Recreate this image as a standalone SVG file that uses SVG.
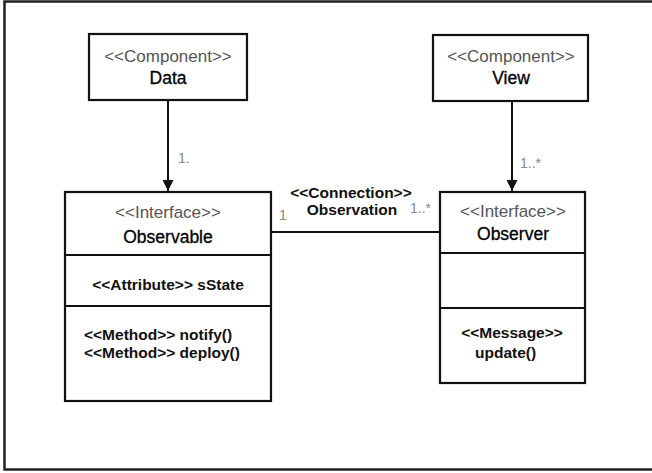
<svg xmlns="http://www.w3.org/2000/svg" width="652" height="473" viewBox="0 0 652 473">
<defs>
<style>
.box{fill:#fff;stroke:#111;stroke-width:2.2}
.div{stroke:#111;stroke-width:2}
.ln{stroke:#111;stroke-width:2;fill:none}
.st{font-family:"Liberation Sans",Arial,sans-serif;font-size:17px;fill:#555;text-anchor:middle}
.nm{font-family:"Liberation Sans",Arial,sans-serif;font-size:17.5px;fill:#000;stroke:#000;stroke-width:0.3;text-anchor:middle}
.bd{font-family:"Liberation Sans",Arial,sans-serif;font-size:15.5px;font-weight:bold;fill:#111}
.mul{font-family:"Liberation Sans",Arial,sans-serif;font-size:14px;fill:#888}
</style>
<marker id="arr" markerWidth="12" markerHeight="11" refX="11" refY="5.5" orient="auto" markerUnits="userSpaceOnUse">
<path d="M0,0 L11,5.5 L0,11 Z" fill="#111"/>
</marker>
</defs>
<rect x="0" y="0" width="652" height="473" fill="#fff"/>
<rect x="4.5" y="1.5" width="660" height="468" fill="none" stroke="#222" stroke-width="2.5"/>

<g id="connectors">
<line class="ln" x1="168" y1="101" x2="168" y2="191" marker-end="url(#arr)"/>
<line class="ln" x1="512" y1="101" x2="512" y2="191" marker-end="url(#arr)"/>
<line class="ln" x1="271" y1="232" x2="440" y2="232"/>
<text class="mul" x="178" y="163">1.</text>
<text class="mul" x="520" y="168">1..*</text>
<text class="mul" x="279" y="220">1</text>
<text class="mul" x="410" y="213">1..*</text>
<text class="bd" x="351" y="198" text-anchor="middle">&lt;&lt;Connection&gt;&gt;</text>
<text class="bd" x="352" y="215" text-anchor="middle">Observation</text>
</g>

<g id="data">
<rect class="box" x="89" y="34" width="158" height="66"/>
<text class="st" x="168" y="62">&lt;&lt;Component&gt;&gt;</text>
<text class="nm" x="168" y="84">Data</text>
</g>

<g id="view">
<rect class="box" x="433" y="35" width="155" height="66"/>
<text class="st" x="511" y="62">&lt;&lt;Component&gt;&gt;</text>
<text class="nm" x="511" y="84">View</text>
</g>

<g id="observable">
<rect class="box" x="65" y="192" width="206" height="209"/>
<line class="div" x1="66" y1="255" x2="270" y2="255"/>
<line class="div" x1="66" y1="306" x2="270" y2="306"/>
<text class="st" x="168" y="218">&lt;&lt;Interface&gt;&gt;</text>
<text class="nm" x="168" y="243">Observable</text>
<text class="bd" x="168" y="290" text-anchor="middle">&lt;&lt;Attribute&gt;&gt; sState</text>
<text class="bd" x="84" y="340">&lt;&lt;Method&gt;&gt; notify()</text>
<text class="bd" x="84" y="358">&lt;&lt;Method&gt;&gt; deploy()</text>
</g>

<g id="observer">
<rect class="box" x="440" y="192" width="145" height="191"/>
<line class="div" x1="441" y1="253" x2="584" y2="253"/>
<line class="div" x1="441" y1="308" x2="584" y2="308"/>
<text class="st" x="513" y="217">&lt;&lt;Interface&gt;&gt;</text>
<text class="nm" x="513" y="240">Observer</text>
<text class="bd" x="512" y="338" text-anchor="middle">&lt;&lt;Message&gt;&gt;</text>
<text class="bd" x="475" y="358">update()</text>
</g>
</svg>
